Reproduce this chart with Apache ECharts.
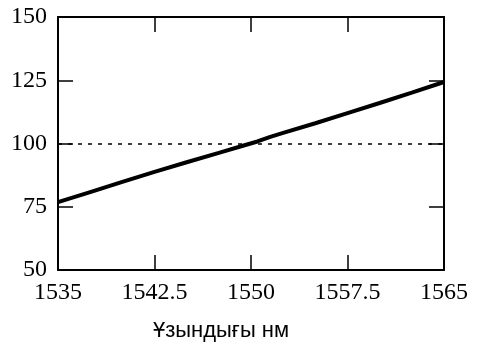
<!DOCTYPE html>
<html>
<head>
<meta charset="utf-8">
<script src="https://cdn.jsdelivr.net/npm/echarts@6/dist/echarts.min.js"></script>
<style>
  html, body { margin: 0; padding: 0; background: #fff; }
  #chart { width: 478px; height: 347px; }
</style>
</head>
<body>
<div id="chart"></div>
<script>
// wavelength (nm) and value
const wavelengths = [1535, 1537.5, 1540, 1542.5, 1545, 1547.5, 1549.5, 1550.5, 1551.5, 1552.5, 1555, 1557.5, 1560, 1562.5, 1565];
const values = [76.8, 80.8, 84.8, 88.8, 92.6, 96.3, 99.3, 100.8, 102.6, 104.2, 108.0, 112.0, 116.0, 120.1, 124.3];
const refLevel = 100;

const xTicks = [1535, 1542.5, 1550, 1557.5, 1565];
const yTicks = [50, 75, 100, 125, 150];
const xName = 'Ұзындығы нм';

let myChart = echarts.init(document.getElementById('chart'));

const axisLine = {show: true, lineStyle: {color: '#000', width: 2}};
const tickStyle = {show: true, inside: true, length: 15, lineStyle: {color: '#000', width: 1.5}};

let option = {
    grid: {left: 58, right: 34, top: 17, bottom: 74},
    xAxis: [
        {
            type: 'value', position: 'bottom', min: 1535, max: 1565,
            name: xName,
            nameLocation: 'middle',
            nameGap: 50,
            nameTextStyle: {fontFamily: 'sans-serif', fontSize: 22, color: '#000', padding: [0, 60, 0, 0]},
            axisLine: axisLine,
            axisTick: Object.assign({customValues: xTicks}, tickStyle),
            axisLabel: {
                customValues: xTicks, margin: 11,
                fontFamily: 'serif', fontSize: 24, color: '#000',
                formatter: v => String(v)
            },
            splitLine: {show: false}
        },
        {
            type: 'value', position: 'top', min: 1535, max: 1565,
            axisLine: axisLine,
            axisTick: Object.assign({customValues: xTicks}, tickStyle),
            axisLabel: {show: false},
            splitLine: {show: false}
        }
    ],
    yAxis: [
        {
            type: 'value', position: 'left', min: 50, max: 150, interval: 25,
            axisLine: axisLine,
            axisTick: tickStyle,
            axisLabel: {
                margin: 11,
                fontFamily: 'serif', fontSize: 24, color: '#000'
            },
            splitLine: {show: false}
        },
        {
            type: 'value', position: 'right', min: 50, max: 150, interval: 25,
            axisLine: axisLine,
            axisTick: tickStyle,
            axisLabel: {show: false},
            splitLine: {show: false}
        }
    ],
    series: [
        {
            type: 'line',
            data: wavelengths.map((w, i) => [w, values[i]]),
            showSymbol: false,
            lineStyle: {color: '#000', width: 4},
            markLine: {
                silent: true,
                symbol: 'none',
                label: {show: false},
                lineStyle: {color: '#000', width: 1.5, type: [4, 6]},
                data: [{yAxis: refLevel}]
            }
        }
    ]
};

myChart.setOption(option);
</script>
</body>
</html>
